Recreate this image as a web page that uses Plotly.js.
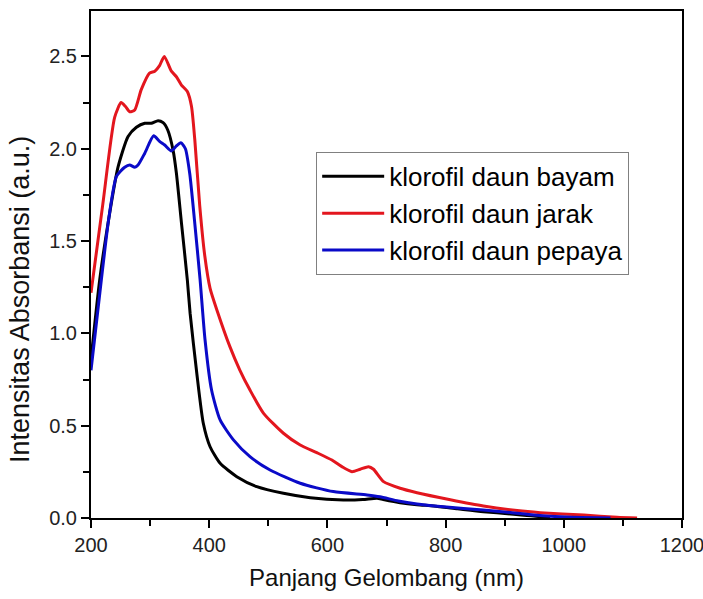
<!DOCTYPE html>
<html>
<head>
<meta charset="utf-8">
<script src="https://cdn.plot.ly/plotly-3.0.1.min.js"></script>
<style>html,body{margin:0;padding:0;background:#fff;}#chart{width:703px;height:599px;}</style>
</head>
<body>
<div id="chart"></div>
<script>
// Wavelength (nm) and absorbance values
const bayamX = [200, 214.7, 230, 245.7, 262.7, 276.8, 291, 302, 313.5, 322, 330, 339, 344.5, 353, 363, 367.7, 379, 390, 401.5, 418.5, 446.7, 480.6, 525.6, 571, 627, 660, 684, 694.5, 723, 751.6, 779.7, 820, 864, 910, 949, 977];
const bayamY = [0.86, 1.29, 1.62, 1.90, 2.066, 2.116, 2.138, 2.138, 2.152, 2.141, 2.10, 1.99, 1.867, 1.60, 1.29, 1.109, 0.784, 0.513, 0.386, 0.296, 0.224, 0.170, 0.134, 0.110, 0.0975, 0.100, 0.107, 0.100, 0.083, 0.072, 0.065, 0.050, 0.034, 0.022, 0.011, 0.0];

const jarakX = [200, 220, 240, 251, 258, 265.5, 274, 285, 299, 308, 316, 324, 336, 344.5, 353, 363, 370, 375.6, 384, 392.5, 401.5, 413, 435, 452, 469, 492, 525.6, 554, 582, 607.6, 624.5, 641.5, 655.5, 669.6, 678, 695, 723, 751.6, 808, 864, 921, 960, 1034, 1090, 1124];
const jarakY = [1.22, 1.70, 2.17, 2.25, 2.23, 2.20, 2.21, 2.32, 2.41, 2.42, 2.45, 2.50, 2.42, 2.39, 2.345, 2.31, 2.23, 2.05, 1.69, 1.42, 1.244, 1.127, 0.928, 0.80, 0.693, 0.567, 0.459, 0.395, 0.354, 0.314, 0.278, 0.251, 0.264, 0.278, 0.264, 0.197, 0.161, 0.137, 0.099, 0.065, 0.040, 0.029, 0.016, 0.004, 0.0];

const pepayaX = [200, 217.5, 230, 243, 257, 265.5, 274, 279.6, 291, 306, 316, 324.7, 336, 344.5, 352, 359.7, 367, 375.6, 384.6, 393, 404, 418.5, 441, 469, 503, 554, 610, 667, 689, 720, 751.6, 796.6, 864, 910, 949, 1005, 1079];
const pepayaY = [0.80, 1.29, 1.62, 1.85, 1.90, 1.912, 1.90, 1.912, 1.976, 2.07, 2.04, 2.02, 1.988, 2.015, 2.033, 2.00, 1.867, 1.596, 1.29, 0.964, 0.693, 0.531, 0.423, 0.332, 0.26, 0.188, 0.143, 0.125, 0.115, 0.092, 0.076, 0.061, 0.043, 0.030, 0.016, 0.005, 0.0];

const seriesNames = ['klorofil daun bayam', 'klorofil daun jarak', 'klorofil daun pepaya'];
const seriesColors = ['#000000', '#e3161e', '#0a0ac8'];
const xTitle = 'Panjang Gelombang (nm)';
const yTitle = 'Intensitas Absorbansi (a.u.)';

const traces = [
  {x: bayamX, y: bayamY},
  {x: jarakX, y: jarakY},
  {x: pepayaX, y: pepayaY}
].map((d, i) => ({
  x: d.x, y: d.y, type: 'scatter', mode: 'lines', name: seriesNames[i],
  line: {color: seriesColors[i], width: 3, shape: 'spline', smoothing: 0.6}
}));

const font = 'Liberation Sans, Arial, sans-serif';
const layout = {
  width: 703, height: 599,
  margin: {l: 91, r: 21, t: 11, b: 81},
  paper_bgcolor: '#fff', plot_bgcolor: '#fff',
  showlegend: true,
  legend: {
    x: 0.381, y: 0.722, xanchor: 'left', yanchor: 'top',
    bordercolor: '#808080', borderwidth: 1, bgcolor: '#fff',
    font: {family: font, size: 26, color: '#000'},
    tracegroupgap: 0, itemwidth: 62
  },
  xaxis: {
    range: [200, 1200], tick0: 200, dtick: 200,
    showgrid: false, zeroline: false,
    showline: true, linecolor: '#000', linewidth: 2, mirror: true,
    ticks: 'outside', ticklen: 8, tickwidth: 2, tickcolor: '#000',
    ticklabeloverflow: 'allow',
    minor: {ticks: 'outside', ticklen: 6, tickwidth: 2, tickcolor: '#000', dtick: 100, showgrid: false},
    tickfont: {family: font, size: 20, color: '#222'},
    title: {text: xTitle, font: {family: font, size: 24, color: '#111'}, standoff: 14}
  },
  yaxis: {
    range: [0, 2.746], tick0: 0, dtick: 0.5, tickformat: '.1f',
    showgrid: false, zeroline: false,
    showline: true, linecolor: '#000', linewidth: 2, mirror: true,
    ticks: 'outside', ticklen: 8, tickwidth: 2, tickcolor: '#000',
    minor: {ticks: 'outside', ticklen: 6, tickwidth: 2, tickcolor: '#000', dtick: 0.25, showgrid: false},
    tickfont: {family: font, size: 20, color: '#222'}
  },
  annotations: [{
    text: yTitle, xref: 'paper', yref: 'paper', x: -0.1202, y: 0.432,
    xanchor: 'center', yanchor: 'middle', textangle: -90, showarrow: false,
    font: {family: font, size: 27, color: '#111'}
  }]
};

Plotly.newPlot('chart', traces, layout, {displayModeBar: false, staticPlot: true});
</script>
</body>
</html>
